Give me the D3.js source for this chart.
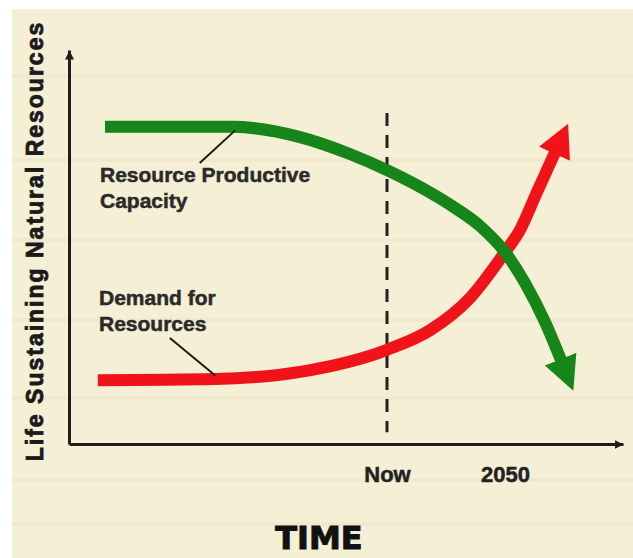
<!DOCTYPE html>
<html>
<head>
<meta charset="utf-8">
<script src="https://cdn.jsdelivr.net/npm/d3@7"></script>
<style>
  body { margin: 0; background: #fff; }
  svg { display: block; }
</style>
</head>
<body>
<svg id="chart" width="633" height="558"></svg>
<script>
// time axis marks
const timeLabels = ["Now", "2050"];
const timeMarks = [57.4, 78.7];

// resource productive capacity (green)
const capacityT = [6.5, 29.6, 41.7, 50.7, 57.4, 63.4, 68.8, 74.2, 78.7, 82.3, 85.9, 88.8];
const capacityV = [80.5, 80.5, 77.9, 73.6, 69.5, 65.2, 60.7, 55.3, 48.7, 40.9, 31.0, 21.3];

// demand for resources (red)
const demandT = [5.2, 26.4, 41.7, 57.4, 65.2, 72.4, 78.7, 81.4, 84.5, 87.7];
const demandV = [16.2, 16.5, 18.3, 23.9, 28.9, 37.1, 48.7, 54.3, 64.0, 73.9];

const svg = d3.select("#chart");
const W = 633, H = 558;

const x = d3.scaleLinear().domain([0, 100]).range([69, 623]);
const y = d3.scaleLinear().domain([0, 100]).range([444, 50]);

// paper background
svg.append("rect").attr("width", W).attr("height", H).attr("fill", "#fff");
svg.append("rect")
  .attr("x", 12).attr("y", 9)
  .attr("width", W - 12).attr("height", H - 9)
  .attr("fill", "#f5efd5");

// faint streaks in the paper
[74, 158, 238, 318, 396, 478, 522].forEach(sy => {
  svg.append("rect")
    .attr("x", 12).attr("y", sy)
    .attr("width", W - 12).attr("height", 4)
    .attr("fill", "#ebe3c3")
    .attr("opacity", 0.45);
});

const defs = svg.append("defs");

function addArrow(id, color, len, half, refX) {
  defs.append("marker")
    .attr("id", id)
    .attr("markerUnits", "userSpaceOnUse")
    .attr("viewBox", `0 ${-half - 1} ${len + 1} ${2 * half + 2}`)
    .attr("markerWidth", len + 1)
    .attr("markerHeight", 2 * half + 2)
    .attr("refX", refX)
    .attr("refY", 0)
    .attr("orient", "auto")
    .append("path")
    .attr("d", `M0,${-half}L${len},0L0,${half}Z`)
    .attr("fill", color);
}
addArrow("axis-arrow", "#1e1e1e", 9, 4.5, 9);
addArrow("green-arrow", "#16861a", 34, 17, 1);
addArrow("red-arrow", "#f0141a", 33, 17, 1);

// axes
const xAxis = svg.append("g")
  .attr("transform", `translate(0,${y(0)})`)
  .call(d3.axisBottom(x)
    .tickValues(timeMarks)
    .tickFormat((d, i) => timeLabels[i])
    .tickSize(0)
    .tickSizeOuter(0)
    .tickPadding(22));

xAxis.select(".domain")
  .attr("stroke", "#1e1e1e")
  .attr("stroke-width", 3)
  .attr("marker-end", "url(#axis-arrow)");

xAxis.selectAll(".tick text")
  .attr("fill", "#222")
  .attr("stroke", "#222")
  .attr("stroke-width", 0.5)
  .style("font-family", "'Liberation Sans', Arial, sans-serif")
  .style("font-weight", "bold")
  .style("font-size", "22px");

const yAxis = svg.append("g")
  .attr("transform", `translate(${x(0)},0)`)
  .call(d3.axisLeft(y).tickValues([]).tickSizeOuter(0));

yAxis.select(".domain")
  .attr("stroke", "#1e1e1e")
  .attr("stroke-width", 3)
  .attr("marker-end", "url(#axis-arrow)");

// "Now" dashed marker
svg.append("line")
  .attr("x1", x(timeMarks[0])).attr("x2", x(timeMarks[0]))
  .attr("y1", y(84)).attr("y2", y(3))
  .attr("stroke", "#222")
  .attr("stroke-width", 3)
  .attr("stroke-dasharray", "13,9");

// curves
const line = d3.line()
  .x(d => x(d[0]))
  .y(d => y(d[1]))
  .curve(d3.curveMonotoneX);

svg.append("path")
  .datum(d3.zip(demandT, demandV))
  .attr("d", line)
  .attr("fill", "none")
  .attr("stroke", "#f0141a")
  .attr("stroke-width", 12)
  .attr("marker-end", "url(#red-arrow)");

svg.append("path")
  .datum(d3.zip(capacityT, capacityV))
  .attr("d", line)
  .attr("fill", "none")
  .attr("stroke", "#16861a")
  .attr("stroke-width", 12)
  .attr("marker-end", "url(#green-arrow)");

// callouts
const labelFont = "'Liberation Sans', Arial, sans-serif";

function callout(lines, tx, ty, from, to) {
  svg.append("line")
    .attr("x1", x(from[0])).attr("y1", y(from[1]))
    .attr("x2", x(to[0])).attr("y2", y(to[1]))
    .attr("stroke", "#1a1a1a")
    .attr("stroke-width", 2);
  const t = svg.append("text")
    .attr("x", tx).attr("y", ty)
    .attr("fill", "#2a2a2a")
    .attr("stroke", "#2a2a2a")
    .attr("stroke-width", 0.5)
    .style("font-family", labelFont)
    .style("font-weight", "bold")
    .style("font-size", "21px");
  lines.forEach((s, i) => {
    t.append("tspan").attr("x", tx).attr("dy", i ? 26 : 0).text(s);
  });
}

callout(["Resource Productive", "Capacity"], 100, 182, [23.6, 71.3], [30.0, 79.6]);
callout(["Demand for", "Resources"], 99, 305, [18.2, 26.9], [26.4, 17.4]);

// axis titles
svg.append("text")
  .attr("transform", "translate(43,241) rotate(-90)")
  .attr("text-anchor", "middle")
  .attr("fill", "#1a1a1a")
  .attr("stroke", "#1a1a1a")
  .attr("stroke-width", 0.8)
  .style("font-family", labelFont)
  .style("font-weight", "bold")
  .style("font-size", "23px")
  .style("letter-spacing", "2px")
  .text("Life Sustaining Natural Resources");

svg.append("text")
  .attr("x", 319).attr("y", 549)
  .attr("text-anchor", "middle")
  .attr("fill", "#111")
  .attr("stroke", "#111")
  .attr("stroke-width", 1)
  .style("font-family", "'DejaVu Sans', sans-serif")
  .style("font-weight", "bold")
  .style("font-size", "32px")
  .text("TIME");
</script>
</body>
</html>
